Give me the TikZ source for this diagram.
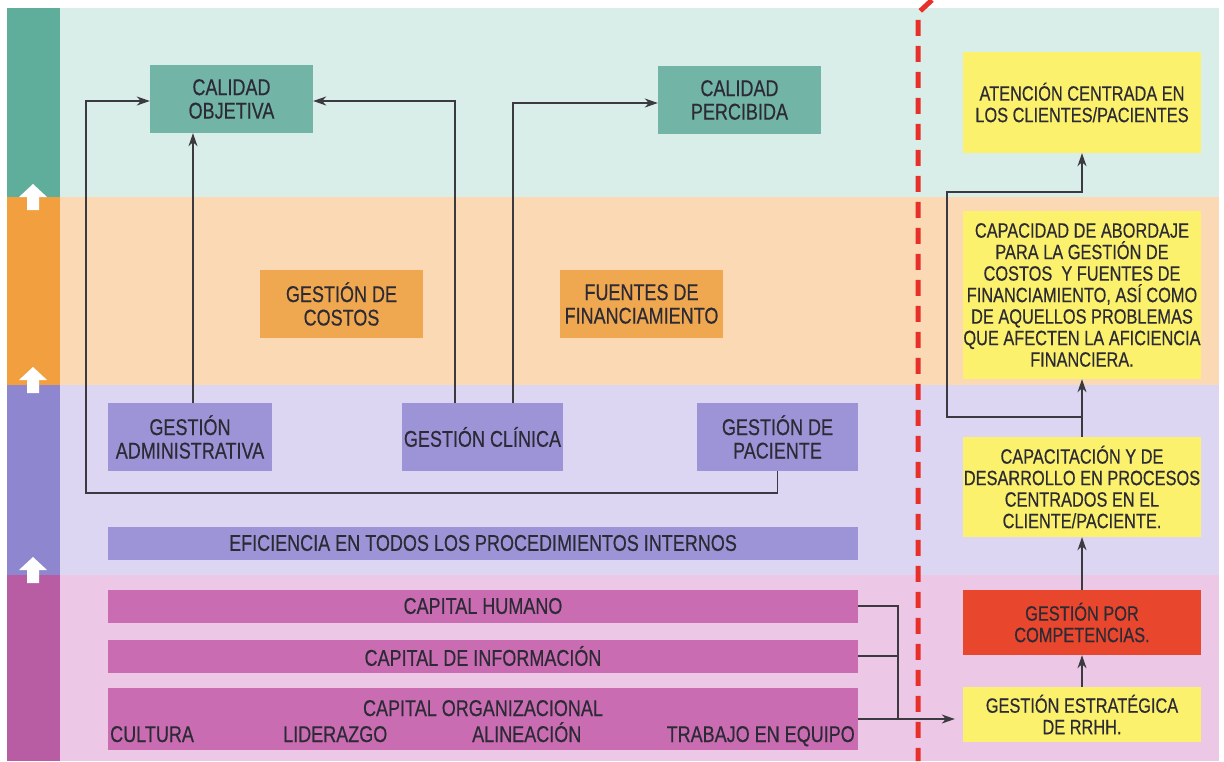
\documentclass[tikz,border=0pt]{standalone}
\usepackage{fontspec}
\setmainfont[FakeStretch=0.79,FakeBold=0.4]{Liberation Sans}
\usetikzlibrary{arrows.meta}
\definecolor{bgteal}{HTML}{DAEEE9}
\definecolor{bgorange}{HTML}{FAD9B4}
\definecolor{bgviolet}{HTML}{DCD6F2}
\definecolor{bgpink}{HTML}{EDC8E6}
\definecolor{sdteal}{HTML}{5FAE9B}
\definecolor{sdorange}{HTML}{F2A03F}
\definecolor{sdviolet}{HTML}{8E86CF}
\definecolor{sdpink}{HTML}{B85CA3}
\definecolor{bxteal}{HTML}{72B4A5}
\definecolor{bxorange}{HTML}{F0A850}
\definecolor{bxviolet}{HTML}{9C94D6}
\definecolor{bxpink}{HTML}{C96CB1}
\definecolor{bxyellow}{HTML}{FBF16C}
\definecolor{bxred}{HTML}{E8472E}
\definecolor{txt}{HTML}{2B2A35}
\definecolor{lin}{HTML}{3A3A40}
\definecolor{redline}{HTML}{E8302A}
\tikzset{
  box/.style={inner sep=0pt, align=center, text=txt, font=\fontsize{22.8}{23.5}\selectfont},
  rbox/.style={inner sep=0pt, align=center, text=txt, fill=bxyellow, minimum width=238pt, font=\fontsize{20.7}{21.5}\selectfont},
  bar/.style={inner sep=0pt, fill=bxpink, minimum width=750pt, text=txt, font=\fontsize{22.8}{23}\selectfont},
  lbl/.style={inner sep=0pt, text=txt, font=\fontsize{22.8}{23}\selectfont},
  conn/.style={draw=lin, line width=1.2pt, -{Stealth[length=13pt,width=9pt,inset=4pt]}},
  plain/.style={draw=lin, line width=1.2pt},
  uparrow/.style={fill=white, draw=none}
}
\begin{document}
\begin{tikzpicture}[x=1pt,y=-1pt]
\useasboundingbox (0,0) rectangle (1224,761);
\fill[white] (0,0) rectangle (1224,761);
% bands
\fill[bgteal]   (60,8)   rectangle (1219,197);
\fill[bgorange] (60,197) rectangle (1219,385);
\fill[bgviolet] (60,385) rectangle (1219,575);
\fill[bgpink]   (60,575) rectangle (1219,761);
% sidebar
\fill[sdteal]   (7,8)   rectangle (60,197);
\fill[sdorange] (7,197) rectangle (60,385);
\fill[sdviolet] (7,385) rectangle (60,575);
\fill[sdpink]   (7,575) rectangle (60,761);
% white up arrows
\foreach \yy in {184,367,557}{
  \fill[uparrow] (33,\yy) -- (47,\yy+13) -- (39,\yy+13) -- (39,\yy+26) -- (27,\yy+26) -- (27,\yy+13) -- (19,\yy+13) -- cycle;
}
% left boxes
\node[box, fill=bxteal, minimum width=163pt, minimum height=68pt] (co) at (231.5,99) {CALIDAD\\OBJETIVA};
\node[box, fill=bxteal, minimum width=163pt, minimum height=68pt] (cp) at (739.5,100) {CALIDAD\\PERCIBIDA};
\node[box, fill=bxorange, minimum width=163pt, minimum height=68pt] (gco) at (341.5,304) {GESTIÓN DE\\COSTOS};
\node[box, fill=bxorange, minimum width=163pt, minimum height=68pt] (ff) at (641.5,304) {FUENTES DE\\FINANCIAMIENTO};
\node[box, fill=bxviolet, minimum width=164pt, minimum height=68pt] (ga) at (190,437) {GESTIÓN\\ADMINISTRATIVA};
\node[box, fill=bxviolet, minimum width=161pt, minimum height=68pt] (gc) at (482.5,437) {GESTIÓN CLÍNICA};
\node[box, fill=bxviolet, minimum width=161pt, minimum height=68pt] (gp) at (777.5,437) {GESTIÓN DE\\PACIENTE};
\node[box, fill=bxviolet, minimum width=750pt, minimum height=33pt] (ef) at (483,543) {EFICIENCIA EN TODOS LOS PROCEDIMIENTOS INTERNOS};
\node[bar, minimum height=33pt] (ch) at (483,606) {CAPITAL HUMANO};
\node[bar, minimum height=33pt] (ci) at (483,656) {CAPITAL DE INFORMACIÓN};
\node[bar, minimum height=62pt] (cor) at (483,719) {};
\node[lbl, anchor=base] (cortit) at (483,716) {CAPITAL ORGANIZACIONAL};
\node[lbl, anchor=base west] (cul) at (110,742) {CULTURA};
\node[lbl, anchor=base west] (lid) at (283,742) {LIDERAZGO};
\node[lbl, anchor=base west] (ali) at (472,742) {ALINEACIÓN};
\node[lbl, anchor=base east] (tra) at (855,742) {TRABAJO EN EQUIPO};
% right column
\node[rbox, minimum height=101pt] (at) at (1082,102.5) {ATENCIÓN CENTRADA EN\\LOS CLIENTES/PACIENTES};
\node[rbox, minimum height=168pt] (cad) at (1082,295) {CAPACIDAD DE ABORDAJE\\PARA LA GESTIÓN DE\\COSTOS\ \ Y FUENTES DE\\FINANCIAMIENTO, ASÍ COMO\\DE AQUELLOS PROBLEMAS\\QUE AFECTEN LA AFICIENCIA\\FINANCIERA.};
\node[rbox, minimum height=100pt] (cap) at (1082,487) {CAPACITACIÓN Y DE\\DESARROLLO EN PROCESOS\\CENTRADOS EN EL\\CLIENTE/PACIENTE.};
\node[rbox, fill=bxred, minimum height=65pt] (gpc) at (1082,622.5) {GESTIÓN POR\\COMPETENCIAS.};
\node[rbox, minimum height=55pt] (ge) at (1082,714.5) {GESTIÓN ESTRATÉGICA\\DE RRHH.};
% helper coordinates
\coordinate (lbot) at (86,493);
\coordinate (jn) at (1082,417);
\coordinate (rl) at (947,192);
\coordinate (bx) at (898,719);
% left connectors
\draw[conn] (gp.south) |- (lbot) |- ([yshift=-2pt]co.west);
\draw[conn] ([xshift=3pt]ga.north) -- ([xshift=3pt]ga.north |- co.south);
\draw[conn] ([xshift=-27.5pt]gc.north) |- ([yshift=-2pt]co.east);
\draw[conn] ([xshift=30.5pt]gc.north) |- ([yshift=-3pt]cp.west);
% right connectors
\draw[conn] (ge.north) -- (gpc.south);
\draw[conn] (gpc.north) -- (cap.south);
\draw[conn] (cap.north) -- (cad.south);
\draw[conn] (jn) -| (rl) -| (at.south);
% capital connectors
\draw[plain] (ch.east) -| (bx);
\draw[plain] (ci.east) -| (bx);
\draw[conn, shorten >=8pt] (cor.east) -- (cor.east -| ge.west);
% red dashed divider
\draw[redline, line width=5pt, dash pattern=on 16pt off 10pt] (932,0) -- (918,13) -- (918,761);
\end{tikzpicture}
\end{document}
